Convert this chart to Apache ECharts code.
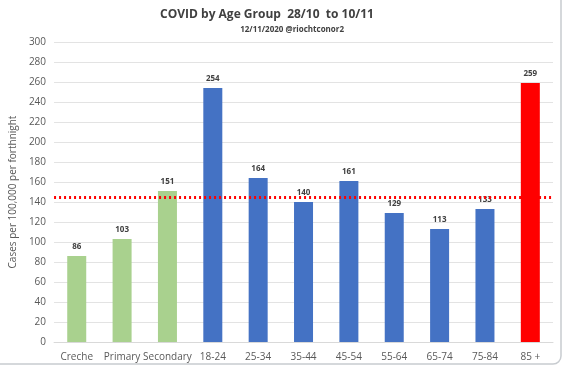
<!DOCTYPE html>
<html><head><meta charset="utf-8">
<script src="https://cdn.jsdelivr.net/npm/echarts@6/dist/echarts.min.js"></script>
<style>html,body{margin:0;padding:0;background:#fff}#c{width:564px;height:370px}</style>
</head><body><div id="c"></div>
<script>
var categories = ["Creche","Primary","Secondary","18-24","25-34","35-44","45-54","55-64","65-74","75-84","85 +"];
var values = [86,103,151,254,164,140,161,129,113,133,259];
var groupOf = ["school","school","school","adult","adult","adult","adult","adult","adult","adult","old"];
var averageLine = 145;
var yTicks = {min:0, max:300, interval:20};
var colors = {school:"#A9D18E", adult:"#4472C4", old:"#FF0000"};

var chart = echarts.init(document.getElementById('c'));
chart.setOption({
  animation:false,
  backgroundColor:'#fff',
  graphic:[{type:'rect',shape:{x:-10,y:-10,width:571,height:374,r:8},style:{fill:'none',stroke:'#c8ccd0',lineWidth:1.5},z:-1}],
  title:[
    {text:'COVID by Age Group  28/10  to 10/11', left:262, textAlign:'center', top:4,
     textStyle:{fontFamily:'Open Sans, Liberation Sans, sans-serif',fontSize:12,fontWeight:'bold',color:'#404040'}},
    {text:'12/11/2020 @riochtconor2', right:215, top:21,
     textStyle:{fontFamily:'Open Sans, Liberation Sans, sans-serif',fontSize:8,fontWeight:'bold',color:'#404040'}}
  ],
  grid:{left:47,right:11,top:42,bottom:28},
  xAxis:{type:'category',data:categories,
    axisLine:{lineStyle:{color:'#d9d9d9'}},axisTick:{show:false},
    axisLabel:{color:'#595959',fontSize:10,fontFamily:'Open Sans, Liberation Sans, sans-serif',margin:10,interval:0}},
  yAxis:{type:'value',min:yTicks.min,max:yTicks.max,interval:yTicks.interval,
    name:'Cases per 100,000 per forthnight',nameLocation:'middle',nameGap:25,nameRotate:90,
    nameTextStyle:{color:'#595959',fontSize:10,fontFamily:'Open Sans, Liberation Sans, sans-serif'},
    axisLine:{show:false},axisTick:{show:false},
    axisLabel:{color:'#595959',fontSize:10,fontFamily:'Open Sans, Liberation Sans, sans-serif',margin:8},
    splitLine:{lineStyle:{color:'#e3e3e3'}}},
  series:[{type:'bar',barWidth:19,
    data:values.map(function(v,i){return {value:v,itemStyle:{color:colors[groupOf[i]]}};}),
    label:{show:true,position:'top',distance:5,color:'#404040',fontSize:8,fontWeight:'bold',fontFamily:'Open Sans, Liberation Sans, sans-serif'},
    markLine:{silent:true,symbol:'none',label:{show:false},
      lineStyle:{color:'#FF0000',type:[2,3],width:3},
      data:[{yAxis:averageLine}]}
  }]
});
</script></body></html>
